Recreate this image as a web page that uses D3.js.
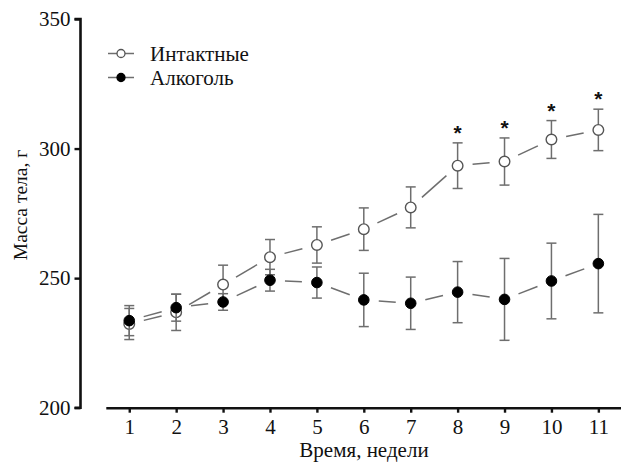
<!DOCTYPE html>
<html>
<head>
<meta charset="utf-8">
<script src="https://cdn.jsdelivr.net/npm/d3@7"></script>
<style>
  html, body { margin: 0; padding: 0; background: #fff; }
  svg { display: block; }
</style>
</head>
<body>
<svg id="chart" width="621" height="462"></svg>
<script>
const weeks = [1, 2, 3, 4, 5, 6, 7, 8, 9, 10, 11];
const intactMean = [232.3, 236.8, 247.5, 258.1, 262.8, 268.9, 277.3, 293.4, 295.0, 303.5, 307.2];
const intactErr  = [6.0, 7.0, 7.5, 6.8, 7.0, 8.2, 7.9, 8.8, 9.1, 7.3, 8.0];
const alcoholMean = [233.6, 238.6, 240.8, 249.2, 248.3, 241.6, 240.3, 244.6, 241.8, 248.9, 255.6];
const alcoholErr  = [5.8, 5.2, 3.2, 4.2, 6.0, 10.3, 10.1, 11.8, 15.8, 14.6, 19.0];
const significant = [false, false, false, false, false, false, false, true, true, true, true];
const yTicks = [200, 250, 300, 350];
const seriesNames = ["Интактные", "Алкоголь"];
const xTitle = "Время, недели";
const yTitle = "Масса тела, г";

const SERIF = "'Liberation Serif'";
const svg = d3.select("#chart");
const x = d3.scaleLinear().domain([0.5, 11.5]).range([105.8, 621.8]);
const y = d3.scaleLinear().domain([200, 350]).range([407.7, 19]);

const gray = "#6e6e6e";

// Axes
const yAxis = svg.append("g").attr("transform", "translate(80.5,0)")
  .call(d3.axisLeft(y).tickValues(yTicks).tickSize(6).tickPadding(4).tickFormat(d3.format("d")));
yAxis.attr("font-family", null).attr("font-size", null);
yAxis.select(".domain").attr("stroke", "#111").attr("stroke-width", 2.6).attr("d", `M-6,${y(350)}H0V${y(200)}H-6`);
yAxis.selectAll(".tick line").attr("stroke", "#111").attr("stroke-width", 2.4);
yAxis.selectAll(".tick text").attr("fill", "#111")
  .style("font-family", SERIF).style("font-size", "21px");

const xAxis = svg.append("g").attr("transform", "translate(0,407.7)")
  .call(d3.axisBottom(x).tickValues(weeks).tickSize(5).tickSizeOuter(0).tickPadding(6).tickFormat(d3.format("d")));
xAxis.attr("font-family", null).attr("font-size", null);
xAxis.select(".domain").attr("stroke", "#111").attr("stroke-width", 2.6);
xAxis.selectAll(".tick line").attr("stroke", "#111").attr("stroke-width", 2.4);
xAxis.selectAll(".tick text").attr("fill", "#111")
  .style("font-family", SERIF).style("font-size", "21px");

// Axis titles
svg.append("text").attr("x", 364).attr("y", 457).attr("text-anchor", "middle")
  .style("font-family", SERIF).style("font-size", "21px").attr("fill", "#111").text(xTitle);
svg.append("text").attr("transform", "translate(27,205) rotate(-90)").attr("text-anchor", "middle")
  .style("font-family", SERIF).style("font-size", "19.5px").attr("fill", "#111").text(yTitle);

// Helper: connectors with gaps around markers
function connectors(means, gap) {
  const segs = [];
  for (let i = 0; i < weeks.length - 1; i++) {
    const x1 = x(weeks[i]), y1 = y(means[i]);
    const x2 = x(weeks[i + 1]), y2 = y(means[i + 1]);
    const dx = x2 - x1, dy = y2 - y1, L = Math.hypot(dx, dy);
    const ux = dx / L, uy = dy / L;
    segs.push([x1 + ux * gap, y1 + uy * gap, x2 - ux * gap, y2 - uy * gap]);
  }
  return segs;
}

function drawSeries(means, errs, filled) {
  const g = svg.append("g");
  g.selectAll("line.conn").data(connectors(means, 15)).join("line")
    .attr("x1", d => d[0]).attr("y1", d => d[1]).attr("x2", d => d[2]).attr("y2", d => d[3])
    .attr("stroke", gray).attr("stroke-width", 1.5);
  const eb = g.selectAll("g.eb").data(weeks.map((w, i) => ({ w, m: means[i], e: errs[i] }))).join("g");
  eb.append("line").attr("x1", d => x(d.w)).attr("x2", d => x(d.w))
    .attr("y1", d => y(d.m + d.e)).attr("y2", d => y(d.m - d.e))
    .attr("stroke", gray).attr("stroke-width", 1.5);
  eb.append("line").attr("x1", d => x(d.w) - 5).attr("x2", d => x(d.w) + 5)
    .attr("y1", d => y(d.m + d.e)).attr("y2", d => y(d.m + d.e))
    .attr("stroke", gray).attr("stroke-width", 1.5);
  eb.append("line").attr("x1", d => x(d.w) - 5).attr("x2", d => x(d.w) + 5)
    .attr("y1", d => y(d.m - d.e)).attr("y2", d => y(d.m - d.e))
    .attr("stroke", gray).attr("stroke-width", 1.5);
  g.selectAll("circle").data(weeks.map((w, i) => ({ w, m: means[i] }))).join("circle")
    .attr("cx", d => x(d.w)).attr("cy", d => y(d.m)).attr("r", 5.3)
    .attr("fill", filled ? "#000" : "#fff")
    .attr("stroke", filled ? "#000" : "#555").attr("stroke-width", filled ? 1 : 1.4);
}

drawSeries(intactMean, intactErr, false);
drawSeries(alcoholMean, alcoholErr, true);

// Significance stars
svg.append("g").selectAll("text")
  .data(weeks.map((w, i) => ({ w, m: intactMean[i], e: intactErr[i], s: significant[i] })).filter(d => d.s))
  .join("text")
  .attr("x", d => x(d.w)).attr("y", d => y(d.m + d.e) - 3)
  .attr("text-anchor", "middle")
  .style("font-family", "'Liberation Sans'")
  .style("font-weight", "bold").style("font-size", "21px").attr("fill", "#111").text("*");

// Legend
const legend = svg.append("g");
const legY = [53.5, 77.5];
seriesNames.forEach((name, i) => {
  legend.append("line").attr("x1", 108).attr("x2", 134).attr("y1", legY[i]).attr("y2", legY[i])
    .attr("stroke", gray).attr("stroke-width", 1.5);
  legend.append("circle").attr("cx", 121).attr("cy", legY[i]).attr("r", 4)
    .attr("fill", i === 0 ? "#fff" : "#000").attr("stroke", i === 0 ? "#555" : "#000").attr("stroke-width", 1.3);
  legend.append("text").attr("x", 150).attr("y", legY[i] + 7)
    .style("font-family", SERIF).style("font-size", "21px").attr("fill", "#111").text(name);
});
</script>
</body>
</html>
